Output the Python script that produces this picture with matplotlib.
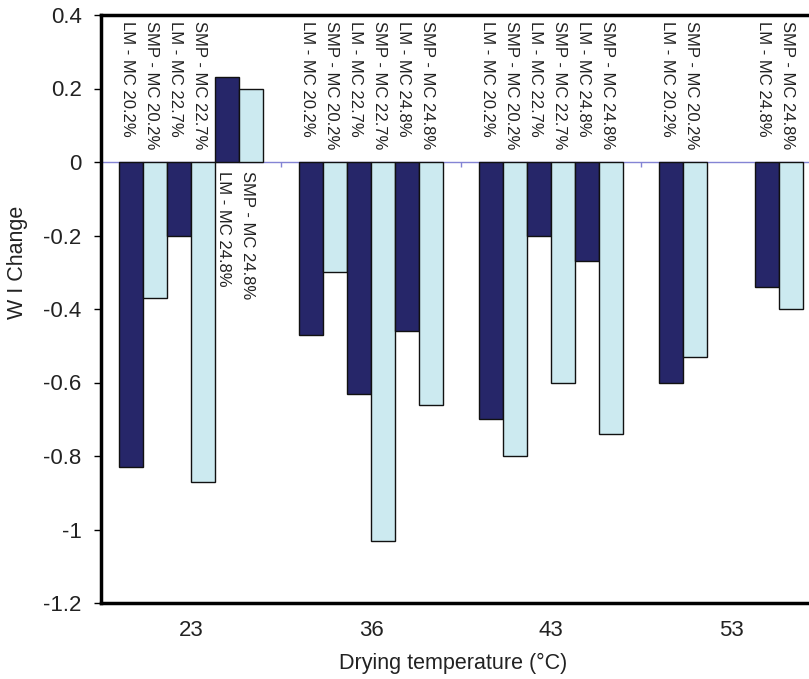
import numpy as np
import matplotlib.pyplot as plt

plt.rcParams['font.family'] = ['Liberation Sans', 'DejaVu Sans']

# Data
temps = ['23', '36', '43', '53']
series = ['LM - MC 20.2%', 'SMP - MC 20.2%', 'LM - MC 22.7%',
          'SMP - MC 22.7%', 'LM - MC 24.8%', 'SMP - MC 24.8%']
wi_change = [
    [-0.83, -0.37, -0.20, -0.87, 0.23, 0.20],    # 23
    [-0.47, -0.30, -0.63, -1.03, -0.46, -0.66],  # 36
    [-0.70, -0.80, -0.20, -0.60, -0.27, -0.74],  # 43
    [-0.60, -0.53, np.nan, np.nan, -0.34, -0.40],  # 53
]
yticks = [-1.2, -1, -0.8, -0.6, -0.4, -0.2, 0, 0.2, 0.4]
ytick_labels = ['-1.2', '-1', '-0.8', '-0.6', '-0.4', '-0.2', '0', '0.2', '0.4']

lm_color = '#262669'
smp_color = '#cceaf0'
zero_color = '#8484d4'
text_color = '#222222'

W, H = 809, 679
fig = plt.figure(figsize=(W / 100, H / 100), dpi=100)
# plot area runs past the right edge of the picture, like the original
ax = fig.add_axes([101 / W, (H - 603) / H, 720 / W, 588 / H])

bw = 0.8 / len(series)
for g, vals in enumerate(wi_change):
    for i, v in enumerate(vals):
        if np.isnan(v):
            continue
        left = g + 0.1 + i * bw
        color = lm_color if i % 2 == 0 else smp_color
        ax.bar(left, v, width=bw, align='edge', color=color,
               edgecolor='#111111', linewidth=1.0, zorder=2)
        ytxt = 0.385 if v <= 0 else -0.025
        ax.text(left + 0.008, ytxt, series[i], rotation=270,
                ha='left', va='top', fontsize=12, color=text_color, zorder=3)

# category axis crosses at zero
ax.axhline(0, color=zero_color, linewidth=1.0, zorder=1)
ax.vlines(np.arange(1, len(temps)), 0, -0.014, color=zero_color,
          linewidth=1.0, zorder=1)

ax.set_xlim(0, len(temps))
ax.set_ylim(-1.2, 0.4)
ax.set_xticks(np.arange(len(temps)) + 0.5)
ax.set_xticklabels(temps, fontsize=16, color=text_color)
ax.tick_params(axis='x', length=0, pad=12)
ax.set_yticks(yticks)
ax.set_yticklabels(ytick_labels, fontsize=16, color=text_color)
ax.tick_params(axis='y', length=5, width=1, pad=9)

for side in ['left', 'top', 'bottom']:
    ax.spines[side].set_linewidth(2.5)
    ax.spines[side].set_color('black')
ax.spines['right'].set_visible(False)

fig.text(18 / W, 1 - 262 / H, 'W I Change', rotation=90,
         ha='center', va='center', fontsize=15.5, color=text_color)
fig.text(453 / W, 1 - 663 / H, 'Drying temperature (°C)',
         ha='center', va='center', fontsize=15.5, color=text_color)

fig.savefig('out.png', dpi=100)
